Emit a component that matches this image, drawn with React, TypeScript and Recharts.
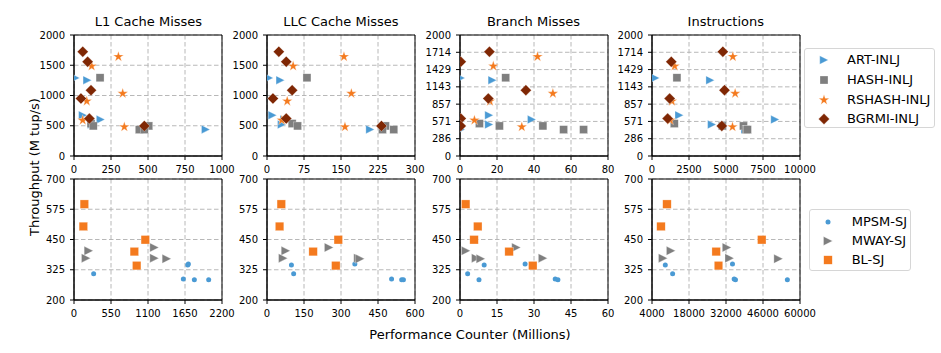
import React from 'react';
import { ScatterChart, Scatter, XAxis, YAxis, CartesianGrid, ReferenceArea } from 'recharts';

// ---------- data ----------
const panelTitles = ['L1 Cache Misses', 'LLC Cache Misses', 'Branch Misses', 'Instructions'];
const topSeries = ['ART-INLJ', 'HASH-INLJ', 'RSHASH-INLJ', 'BGRMI-INLJ'];
const bottomSeries = ['MPSM-SJ', 'MWAY-SJ', 'BL-SJ'];

// throughput (M tup/s), top row
const artY = [1290, 1254, 674, 602, 520, 440];
const hashY = [1293, 536, 497, 497, 436, 436];
const rshashY = [1641, 1486, 1033, 906, 591, 481];
const bgrmiY = [1724, 1558, 1088, 950, 619, 497];

// counters (millions), top row, per metric
const artX = [
  [10, 90, 60, 180, 120, 890],
  [4, 27, 11, 35, 30, 209],
  [0.4, 17.5, 15.7, 38.8, 15.7, 0.4],
  [225, 3933, 1843, 8315, 4045, 6300],
];
const hashX = [
  [176, 115, 505, 130, 441, 475],
  [81, 51, 62, 240, 234, 257],
  [24.7, 10.5, 21.3, 44.8, 56, 66.8],
  [1685, 1506, 6180, 4750, 6360, 6450],
];
const rshashX = [
  [300, 119, 329, 86, 59, 340],
  [156, 53, 171, 41, 30, 158],
  [41.9, 18, 50.2, 16.2, 7.8, 33.4],
  [5461, 1528, 5618, 1348, 1236, 5438],
];
const bgrmiX = [
  [59, 92, 115, 47, 104, 475],
  [24, 39, 51, 12, 39, 232],
  [15.9, 0.4, 35.6, 15.3, 0.4, 0.4],
  [4787, 1303, 4899, 1191, 1056, 4719],
];

// throughput (M tup/s), bottom row
const mpsmY = [345, 308, 349, 287, 284, 284];
const mwayY = [417, 403, 373, 373, 370];
const blY = [596, 504, 449, 400, 342];

const mpsmX = [
  [1690, 292, 1700, 1625, 1789, 2002],
  [99, 108, 356, 505, 546, 553],
  [9.8, 3.1, 26.4, 38.6, 39.7, 7.7],
  [9034, 11802, 34453, 35083, 35584, 55213],
];
const mwayX = [
  [1194, 218, 178, 1194, 1378],
  [251, 76, 65, 370, 377],
  [22.8, 2.4, 6.5, 33.6, 8.4],
  [32315, 11173, 33321, 8153, 51820],
];
const blX = [
  [154, 139, 1060, 897, 932],
  [58, 51, 289, 187, 279],
  [2.3, 7.2, 5.7, 19.9, 29.5],
  [9663, 7398, 45528, 28287, 29168],
];

// axis ticks
const topXTicks = [
  [0, 250, 500, 750, 1000],
  [0, 75, 150, 225, 300],
  [0, 20, 40, 60, 80],
  [0, 2500, 5000, 7500, 10000],
];
const bottomXTicks = [
  [0, 550, 1100, 1650, 2200],
  [0, 150, 300, 450, 600],
  [0, 15, 30, 45, 60],
  [4000, 18000, 32000, 46000, 60000],
];
const topYTicksA = [0, 500, 1000, 1500, 2000];
const topYTicksB = [0, 2000 / 7, 4000 / 7, 6000 / 7, 8000 / 7, 10000 / 7, 12000 / 7, 2000];
const bottomYTicks = [200, 325, 450, 575, 700];

// ---------- style ----------
const FONT = '"DejaVu Sans", sans-serif';
const C_BLUE = '#4a9ad4';
const C_GRAY = '#7f7f7f';
const C_ORANGE = '#f47a1e';
const C_BROWN = '#7f2704';

const zip = (xs: number[], ys: number[]) => xs.map((x, i) => ({ x, y: ys[i] }));

// ---------- marker shapes ----------
type Mk = 'tri' | 'sq' | 'star' | 'dia' | 'dot';
function markerEl(kind: Mk, cx: number, cy: number, color: string, s: number) {
  const st = { fill: color, stroke: '#ffffff', strokeWidth: 0.5, strokeOpacity: 0.6 };
  if (kind === 'tri') {
    const h = s / 2;
    return <polygon points={`${cx + h},${cy} ${cx - h},${cy - h} ${cx - h},${cy + h}`} {...st} />;
  }
  if (kind === 'sq') {
    return <rect x={cx - s / 2} y={cy - s / 2} width={s} height={s} {...st} />;
  }
  if (kind === 'dia') {
    const h = s / 2;
    return <polygon points={`${cx},${cy - h} ${cx + h},${cy} ${cx},${cy + h} ${cx - h},${cy}`} {...st} />;
  }
  if (kind === 'star') {
    const ro = s / 2;
    const ri = ro * 0.382;
    const pts: string[] = [];
    for (let k = 0; k < 10; k++) {
      const r = k % 2 === 0 ? ro : ri;
      const a = -Math.PI / 2 + (k * Math.PI) / 5;
      pts.push(`${cx + r * Math.cos(a)},${cy + r * Math.sin(a)}`);
    }
    return <polygon points={pts.join(' ')} {...st} />;
  }
  return <circle cx={cx} cy={cy} r={s / 2} fill={color} />;
}
const shapeFn = (kind: Mk, color: string, s: number) => (p: any) =>
  p.cx == null ? <g /> : markerEl(kind, p.cx, p.cy, color, s);

// ---------- layout ----------
const PLOT_W = 148;
const PLOT_H = 121;
const Y_W = 45;
const R_M = 24;
const plotLefts = [74.4, 266.9, 459.5, 651.8];
const TOP_ROW = 35;
const BOT_ROW = 179.3;

type SeriesDef = { name: string; data: { x: number; y: number }[]; kind: Mk; color: string; size: number };

function Panel(props: {
  left: number; top: number; xDomain: [number, number]; xTicks: number[];
  yDomain: [number, number]; yTicks: number[]; series: SeriesDef[];
}) {
  const { left, top, xDomain, xTicks, yDomain, yTicks, series } = props;
  const tickStyle = { fontSize: 10, fill: '#000', fontFamily: FONT };
  return (
    <div style={{ position: 'absolute', left: left - Y_W, top: top - 5 }}>
      <ScatterChart width={Y_W + PLOT_W + R_M} height={5 + PLOT_H + 25} margin={{ top: 5, right: R_M, bottom: 0, left: 0 }}>
        <CartesianGrid stroke="#b0b0b0" strokeDasharray="4.5 2.5" strokeWidth={0.9} />
        <XAxis
          type="number" dataKey="x" domain={xDomain} ticks={xTicks} allowDataOverflow interval={0}
          height={25} tick={tickStyle} tickLine={{ stroke: '#000' }} axisLine={{ stroke: '#000' }}
          tickSize={4} tickMargin={6}
        />
        <YAxis
          type="number" dataKey="y" domain={yDomain} ticks={yTicks} allowDataOverflow interval={0}
          width={Y_W} tick={tickStyle} tickLine={{ stroke: '#000' }} axisLine={{ stroke: '#000' }}
          tickSize={4} tickMargin={5} tickFormatter={(v: number) => String(Math.round(v))}
        />
        <ReferenceArea x1={xDomain[0]} x2={xDomain[1]} y1={yDomain[0]} y2={yDomain[1]} fill="none" fillOpacity={0} stroke="#000" strokeWidth={1} ifOverflow="visible" />
        {series.map((s) => (
          <Scatter key={s.name} name={s.name} data={s.data} shape={shapeFn(s.kind, s.color, s.size)} isAnimationActive={false} />
        ))}
      </ScatterChart>
    </div>
  );
}

function LegendIcon({ kind, color, size }: { kind: Mk; color: string; size: number }) {
  return (
    <svg width={14} height={14} style={{ position: 'absolute', left: -7, top: -7 }}>
      {markerEl(kind, 7, 7, color, size)}
    </svg>
  );
}

function LegendBox(props: {
  left: number; top: number; width: number; height: number; markerX: number; textX: number;
  rows: number[]; items: { name: string; kind: Mk; color: string; size: number }[];
}) {
  const { left, top, width, height, markerX, textX, rows, items } = props;
  return (
    <div style={{
      position: 'absolute', left, top, width, height, boxSizing: 'border-box',
      border: '1px solid #d6d6d6', borderRadius: 3, background: '#fff',
    }}>
      {items.map((it, i) => (
        <React.Fragment key={it.name}>
          <div style={{ position: 'absolute', left: markerX, top: rows[i] }}>
            <LegendIcon kind={it.kind} color={it.color} size={it.size} />
          </div>
          <div style={{
            position: 'absolute', left: textX, top: rows[i] - 8, lineHeight: '16px',
            fontSize: 13, fontFamily: FONT, color: '#000', whiteSpace: 'nowrap',
          }}>{it.name}</div>
        </React.Fragment>
      ))}
    </div>
  );
}

export default function App() {
  const topItems = [
    { name: topSeries[0], kind: 'tri' as Mk, color: C_BLUE, size: 8.5 },
    { name: topSeries[1], kind: 'sq' as Mk, color: C_GRAY, size: 8 },
    { name: topSeries[2], kind: 'star' as Mk, color: C_ORANGE, size: 11 },
    { name: topSeries[3], kind: 'dia' as Mk, color: C_BROWN, size: 11 },
  ];
  const botItems = [
    { name: bottomSeries[0], kind: 'dot' as Mk, color: C_BLUE, size: 5 },
    { name: bottomSeries[1], kind: 'tri' as Mk, color: C_GRAY, size: 9 },
    { name: bottomSeries[2], kind: 'sq' as Mk, color: C_ORANGE, size: 8.5 },
  ];
  const topYs = [artY, hashY, rshashY, bgrmiY];
  const topXs = [artX, hashX, rshashX, bgrmiX];
  const botYs = [mpsmY, mwayY, blY];
  const botXs = [mpsmX, mwayX, blX];

  return (
    <div style={{ position: 'absolute', left: 0, top: 0, width: 941, height: 353, background: '#fff', fontFamily: FONT }}>
      {panelTitles.map((t, i) => (
        <div key={t} style={{
          position: 'absolute', left: plotLefts[i], width: PLOT_W, top: 12.5, textAlign: 'center',
          fontSize: 13, lineHeight: '18px', color: '#000', whiteSpace: 'nowrap',
        }}>{t}</div>
      ))}
      {panelTitles.map((t, i) => (
        <Panel
          key={'top' + i}
          left={plotLefts[i]} top={TOP_ROW}
          xDomain={[topXTicks[i][0], topXTicks[i][4]]} xTicks={topXTicks[i]}
          yDomain={[0, 2000]} yTicks={i < 2 ? topYTicksA : topYTicksB}
          series={topItems.map((it, k) => ({ ...it, data: zip(topXs[k][i], topYs[k]) }))}
        />
      ))}
      {panelTitles.map((t, i) => (
        <Panel
          key={'bot' + i}
          left={plotLefts[i]} top={BOT_ROW}
          xDomain={[bottomXTicks[i][0], bottomXTicks[i][4]]} xTicks={bottomXTicks[i]}
          yDomain={[200, 700]} yTicks={bottomYTicks}
          series={botItems.map((it, k) => ({ ...it, data: zip(botXs[k][i], botYs[k]) }))}
        />
      ))}
      <div style={{
        position: 'absolute', left: 35, top: 167, transform: 'translate(-50%, -50%) rotate(-90deg)',
        fontSize: 13, lineHeight: '16px', whiteSpace: 'nowrap', color: '#000',
      }}>Throughput (M tup/s)</div>
      <div style={{
        position: 'absolute', left: 470, top: 335, transform: 'translate(-50%, -50%)',
        fontSize: 13, lineHeight: '16px', whiteSpace: 'nowrap', color: '#000',
      }}>Performance Counter (Millions)</div>
      <LegendBox left={804} top={48} width={131} height={80} markerX={19} textX={42}
        rows={[11.3, 31, 50.5, 69.5]} items={topItems} />
      <LegendBox left={809} top={209} width={102} height={62} markerX={18.3} textX={41.7}
        rows={[11.7, 31, 50.3]} items={botItems} />
    </div>
  );
}
